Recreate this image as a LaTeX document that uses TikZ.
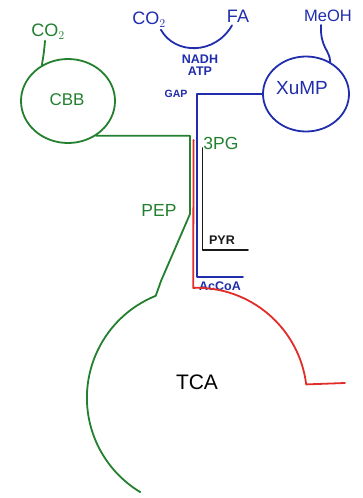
\documentclass[tikz,border=0pt]{standalone}
\usepackage{fontspec}
\setmainfont{Liberation Sans}
\usetikzlibrary{shapes.geometric}
\definecolor{mygreen}{RGB}{34,128,46}
\definecolor{myblue}{RGB}{32,45,172}
\definecolor{myred}{RGB}{226,44,40}
\definecolor{myblack}{RGB}{25,25,25}
\begin{document}
\begin{tikzpicture}[x=1pt,y=1pt,
  pathw/.style={line width=1.8pt, line cap=round, line join=round},
  ring/.style={ellipse, draw, line width=1.8pt, inner sep=0pt},
  lbl/.style={inner sep=0pt, font=\fontsize{17}{17}\selectfont},
  big/.style={inner sep=0pt, font=\fontsize{18}{18}\selectfont},
  small/.style={inner sep=0pt, font=\bfseries\fontsize{12.5}{13}\selectfont}
]
\fill[white] (0,0) rectangle (363,-498);
\useasboundingbox (0,0) rectangle (363,-498);

% circles
\node[ring, draw=mygreen, minimum width=94pt, minimum height=84pt] (cbb) at (68,-101) {};
\node[lbl, text=mygreen] (cbbl) at (67,-100) {CBB};
\node[ring, draw=myblue, minimum width=86pt, minimum height=75pt] (xump) at (306,-94) {};
\node[lbl, text=myblue, font=\fontsize{19}{19}\selectfont] (xumpl) at (302,-88) {XuMP};
\node[circle, minimum size=220pt, inner sep=0pt] (tca) at (197,-398) {};
\node[lbl, font=\fontsize{21}{21}\selectfont] (tcal) at (197,-382) {TCA};

% top labels
\node[big, text=mygreen] (co2g) at (48,-32) {CO$_2$};
\node[big, text=myblue] (co2b) at (149,-20) {CO$_2$};
\node[big, text=myblue] (fa) at (238,-16) {FA};
\node[lbl, text=myblue, font=\fontsize{16.5}{16.5}\selectfont] (meoh) at (328,-16) {MeOH};
\node[small, text=myblue] (nadh) at (200,-59) {NADH};
\node[small, text=myblue] (atp) at (200,-71) {ATP};
\node[small, text=myblue, font=\bfseries\fontsize{10.5}{11}\selectfont] (gap) at (176,-94) {GAP};

% bundle labels
\node[lbl, text=mygreen, font=\fontsize{17.5}{17.5}\selectfont] (pg) at (221,-143) {3PG};
\node[lbl, text=mygreen, font=\fontsize{17.5}{17.5}\selectfont] (pep) at (159,-210) {PEP};
\node[small, text=myblack] (pyr) at (222,-240) {PYR};
\node[small, text=myblue] (accoa) at (220,-286) {AcCoA};

% coordinates
\coordinate (g1) at (190,-138);
\coordinate (g2) at (190,-214);
\coordinate (g3) at (161,-281);
\coordinate (r1) at (193.6,-140);
\coordinate (rt) at (345,-383);
\coordinate (b1) at (197,-92);
\coordinate (b2) at (197,-277);
\coordinate (b3) at (243,-277);
\coordinate (k1) at (202.5,-148);
\coordinate (k2) at (202.5,-250);
\coordinate (k3) at (248,-250);

% curves to circles
\draw[pathw, mygreen] (co2g.south) ++(-3,-1) .. controls (44,-52) .. (cbb.126);
\draw[pathw, myblue] (meoh.south) ++(-7,-3) .. controls (320,-48) and (330,-50) .. (xump.53);
\draw[pathw, myblue] (co2b.south east) ++(-5,-2) .. controls (175,-55) and (215,-55) .. ([xshift=-6pt,yshift=-3pt]fa.south);

% green CBB -> PEP -> TCA
\draw[pathw, mygreen] (cbb.-51) -- (cbb.-51 -| g1) -- (g2) -- (g3) -- (tca.112);
\draw[pathw, mygreen] (tca.112) arc[start angle=112, end angle=239, radius=110pt];

% red
\draw[pathw, myred] (r1) -- (tca.92) arc[start angle=92, end angle=7, radius=110pt] -- (rt);

% blue GAP -> AcCoA
\draw[pathw, myblue] (xump.west) -- (xump.west -| b1) -- (b2) -- (b3);

% black PYR
\draw[pathw, myblack] (k1) -- (k2) -- (k3);
\end{tikzpicture}
\end{document}
